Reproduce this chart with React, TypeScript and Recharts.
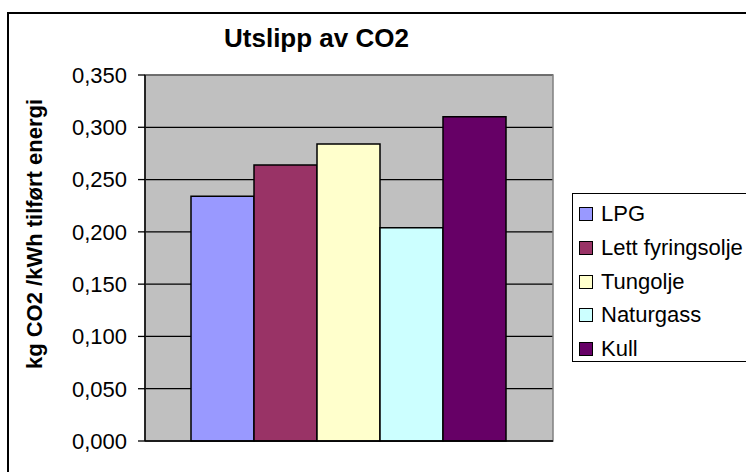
import { Bar, BarChart, CartesianGrid, ReferenceArea, XAxis, YAxis } from "recharts";

const categories = [""];
const seriesNames = ["LPG", "Lett fyringsolje", "Tungolje", "Naturgass", "Kull"];
const seriesValues = [0.234, 0.264, 0.284, 0.204, 0.31];
const seriesColors = ["#9999FF", "#993366", "#FFFFCC", "#CCFFFF", "#660066"];
const yTicks = [0, 0.05, 0.1, 0.15, 0.2, 0.25, 0.3, 0.35];

const data = categories.map((name) => {
  const row: Record<string, string | number> = { name };
  seriesNames.forEach((s, i) => {
    row[s] = seriesValues[i];
  });
  return row;
});

const FONT = "'Liberation Sans', Arial, sans-serif";
const fmt = (v: number) => v.toFixed(3).replace(".", ",");

export default function App() {
  return (
    <div style={{ position: "absolute", left: 0, top: 0, width: 746, height: 472, overflow: "hidden", background: "#fff", fontFamily: FONT }}>
      {/* chart frame, runs off the right and bottom of the picture */}
      <div style={{ position: "absolute", left: 7, top: 12, width: 780, height: 500, border: "2px solid #000" }} />

      <div style={{ position: "absolute", left: 0, top: 25, width: 633, textAlign: "center", fontSize: 26, lineHeight: "26px", fontWeight: "bold" }}>
        Utslipp av CO2
      </div>

      <div
        style={{
          position: "absolute",
          left: 35,
          top: 234,
          transform: "translate(-50%, -50%) rotate(-90deg)",
          whiteSpace: "nowrap",
          fontSize: 22,
          lineHeight: "22px",
          fontWeight: "bold",
        }}
      >
        kg CO2 /kWh tilført energi
      </div>

      <div style={{ position: "absolute", left: 0, top: 0 }}>
        <BarChart width={746} height={472} data={data} margin={{ top: 75, right: 193, bottom: 11, left: 0 }} barGap={0} barCategoryGap={46}>
          <CartesianGrid vertical={false} fill="#C0C0C0" fillOpacity={1} stroke="#000" strokeWidth={1.3} />
          <ReferenceArea y1={0} y2={0.35} fill="none" stroke="#808080" strokeWidth={1.5} />
          <XAxis dataKey="name" height={20} tick={false} tickLine={false} axisLine={{ stroke: "#000", strokeWidth: 1.5 }} />
          <YAxis
            width={145}
            domain={[0, 0.35]}
            ticks={yTicks}
            tickFormatter={fmt}
            tickSize={7}
            tickMargin={11}
            axisLine={{ stroke: "#000", strokeWidth: 1.5 }}
            tickLine={{ stroke: "#000", strokeWidth: 1.3 }}
            tick={{ fill: "#000", fontSize: 22, fontFamily: FONT }}
          />
          {seriesNames.map((s, i) => (
            <Bar key={s} dataKey={s} fill={seriesColors[i]} stroke="#000" strokeWidth={1.5} isAnimationActive={false} />
          ))}
        </BarChart>
      </div>

      <div style={{ position: "absolute", left: 572, top: 193, width: 200, height: 167, border: "1.5px solid #000", background: "#fff" }}>
        {seriesNames.map((s, i) => (
          <div key={s} style={{ position: "absolute", left: 6, top: 9 + i * 33.8, height: 22, display: "flex", alignItems: "center", whiteSpace: "nowrap" }}>
            <span style={{ width: 12, height: 12, background: seriesColors[i], border: "1px solid #000", display: "inline-block" }} />
            <span style={{ marginLeft: 8, fontSize: 22 }}>{s}</span>
          </div>
        ))}
      </div>
    </div>
  );
}
